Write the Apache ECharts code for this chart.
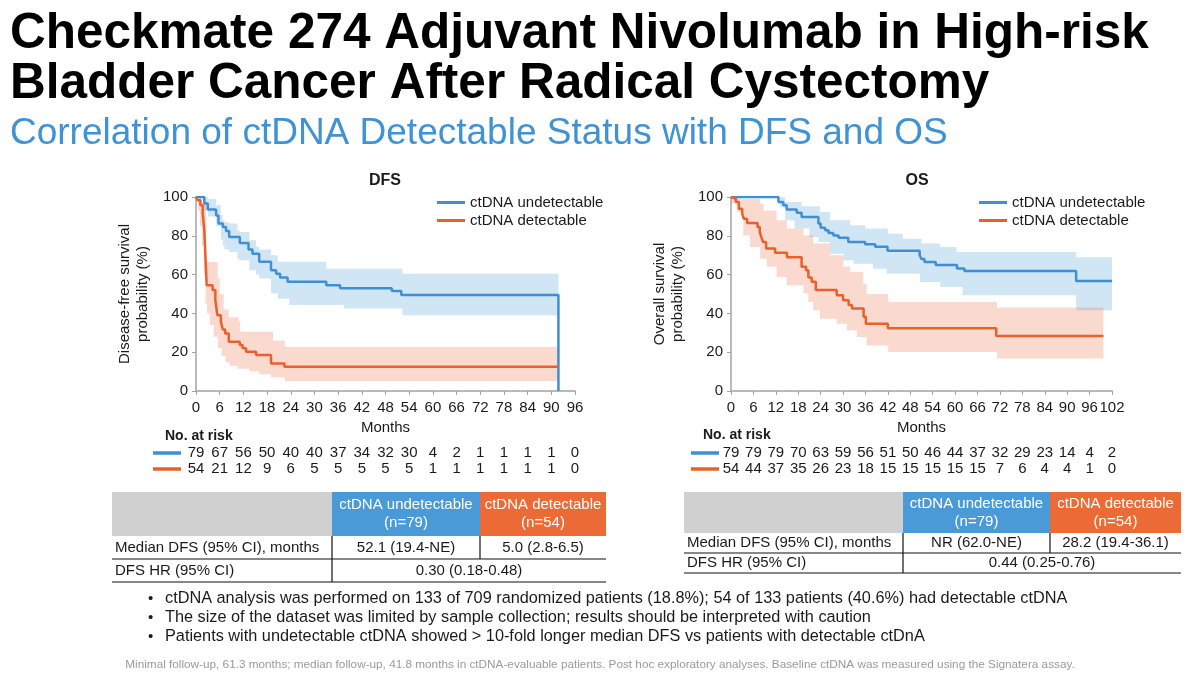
<!DOCTYPE html>
<html>
<head>
<meta charset="utf-8">
<script src="https://cdn.jsdelivr.net/npm/echarts@6/dist/echarts.min.js"></script>
<style>
  html, body { margin: 0; padding: 0; background: #fff; }
  #main { width: 1200px; height: 683px; }
</style>
</head>
<body>
<div id="main"></div>
<script>
// ---- data ----
// KM steps: [month, survival %]
const dfsUndet = [[0,100],[2.1,96.6],[3.0,93.5],[5.1,90.5],[5.7,86.3],[6.8,84.6],[7.6,82.5],[8.4,79.4],[11.1,76.3],[13.3,72.9],[14.3,70.8],[16.0,66.6],[19.0,62.3],[20.3,60.5],[21.3,58.5],[23.2,56.3],[33.0,54.5],[36.5,53.0],[49.6,51.5],[52.0,49.5],[91.8,0]];
const dfsDet = [[0,100],[0.4,98.3],[1.1,95.7],[1.7,91.4],[2.1,83],[2.4,69],[2.7,54.5],[4.2,52],[4.9,46.8],[5.4,39.1],[6.3,35.6],[6.8,31.7],[7.4,29.7],[8.3,25.4],[11.1,23.7],[11.8,22],[12.7,20.2],[15.2,18.5],[19,14.2],[22.4,12.5],[91.8,12.5]];
const osUndet = [[0,100],[12.7,97.4],[14,95.7],[14.9,93.5],[17.6,91.9],[18.9,89.7],[23.4,86.3],[24,84.2],[25.2,82.8],[26.1,81.4],[27.4,80.2],[28.8,79],[31.4,76.8],[35.9,75.6],[38.6,74.3],[41.9,72.3],[50.5,70],[51,68],[51.8,66.5],[54.8,65],[60.5,63.2],[62.5,61.8],[92.4,56.7],[102,56.7]];
const osDet = [[0,100],[0.4,99.1],[1.3,97.4],[2.1,94],[3.0,91.4],[3.4,88.8],[4.3,86.6],[7.1,84.6],[7.7,82],[8.1,79.4],[8.6,76.8],[9.4,73.4],[11.8,71.2],[15,69],[18.9,64],[20.1,62.3],[20.7,58.5],[21.6,56.3],[22.7,52],[28.3,49.4],[30,46.8],[31.5,44.3],[32.4,42.5],[35.5,38.3],[36.1,34.7],[42,32.3],[71,28.4],[99.7,28.4]];

// 95% CI bands: [month, lower, upper]
const dfsUndetCI = [[0,100,100],[2.1,93,100],[3.0,90,99],[5.1,85,95.7],[6.3,78,90.6],[6.8,75,88],[7.2,73,87],[8.4,71.7,86.3],[10.5,68,82.8],[11.0,67.4,82],[13.5,62.3,77.7],[15.2,60,74.3],[16.0,58,73],[19.0,50.3,70],[20.7,47.5,66.6],[23.6,44.3,66.6],[33,44.3,63],[37.5,42.5,63],[52.3,39,60.5],[91.8,39,60.5]];
const dfsDetCI = [[0,100,100],[0.5,93,100],[1.0,85,100],[1.5,75,97],[2.0,60,97],[2.4,45,97],[2.6,45,66.5],[2.8,40,66.5],[3.5,34,66.5],[4.5,28,66.5],[5.5,22,58],[6.0,22,50],[6.5,18,50],[7.0,18,42],[7.5,15,42],[8.3,15,38],[8.5,13,38],[10.5,11.5,38],[10.8,11.5,36],[11.2,11.5,30.5],[13.5,10,30.5],[16,8.6,30.5],[19,7,30.5],[19.5,7,26],[22.5,5.2,22.7],[91.8,5.2,22.7]];
const osUndetCI = [[0,100,100],[13.0,95,100],[14.5,88,97.4],[17.0,83.7,97.4],[18.9,83.7,95.2],[21,79.4,95.2],[23.4,76.8,95.2],[23.8,76.8,92.3],[26.5,70.8,88],[30.1,67.4,88],[31.9,67.4,85.4],[32.8,65.6,85.4],[36,65.6,83.7],[38,63,83.7],[41.7,60.5,83.7],[42,60.5,81],[46,60.5,78.5],[50.6,56.2,78.5],[51,56.2,76],[56,53.6,74.2],[60.4,53.6,71.6],[62,49.3,71.6],[92.4,41.6,69],[102,41.6,69]];
const osDetCI = [[0,100,100],[0.2,96.6,100],[1.5,92.3,100],[2,92.3,99],[3.3,80.2,99],[5.1,74.2,99],[7.8,68.2,96.6],[8.7,68.2,93],[9.6,64,93],[12.2,58.8,88],[14.9,54.5,83.7],[19.4,50.2,80.2],[20.7,45.9,80.2],[22,41.6,76],[23.8,37.3,76],[26.5,37.3,70],[28.3,34.7,70],[30.1,34.7,64],[31,31.3,64],[31.9,31.3,61.3],[33.7,27.8,61.3],[35.4,27.8,55.3],[36.3,23.5,50],[42.1,20.1,45.9],[71.2,16.7,43],[99.7,16.7,43]];

// numbers at risk, one per 6-month tick
const dfsRiskUndet = [79,67,56,50,40,40,37,34,32,30,4,2,1,1,1,1,0];
const dfsRiskDet = [54,21,12,9,6,5,5,5,5,5,1,1,1,1,1,1,0];
const osRiskUndet = [79,79,79,70,63,59,56,51,50,46,44,37,32,29,23,14,4,2];
const osRiskDet = [54,44,37,35,26,23,18,15,15,15,15,15,7,6,4,4,1,0];

const groups = ['ctDNA undetectable', 'ctDNA detectable'];
const tableHead = ['ctDNA undetectable\n(n=79)', 'ctDNA detectable\n(n=54)'];
const dfsRows = [['Median DFS (95% CI), months', '52.1 (19.4-NE)', '5.0 (2.8-6.5)'], ['DFS HR (95% CI)', '0.30 (0.18-0.48)']];
const osRows = [['Median DFS (95% CI), months', 'NR (62.0-NE)', '28.2 (19.4-36.1)'], ['DFS HR (95% CI)', '0.44 (0.25-0.76)']];
const bullets = [
  'ctDNA analysis was performed on 133 of 709 randomized patients (18.8%); 54 of 133 patients (40.6%) had detectable ctDNA',
  'The size of the dataset was limited by sample collection; results should be interpreted with caution',
  'Patients with undetectable ctDNA showed > 10-fold longer median DFS vs patients with detectable ctDnA'
];
const footnote = 'Minimal follow-up, 61.3 months; median follow-up, 41.8 months in ctDNA-evaluable patients. Post hoc exploratory analyses. Baseline ctDNA was measured using the Signatera assay.';

// ---- styling ----
const FONT = '"Liberation Sans", Arial, Helvetica, sans-serif';
const BLUE = '#3f8fd2', ORANGE = '#e8602c';
const BLUE_BAND = 'rgba(91,165,220,0.28)', ORANGE_BAND = 'rgba(236,120,80,0.28)';
const AXIS_GRAY = '#a3a3a3', INK = '#1a1a1a';

function txt(x, y, text, size, opts) {
  opts = opts || {};
  return {
    type: 'text', x: x, y: y, silent: true,
    style: {
      text: text, fill: opts.color || INK, fontSize: size, fontFamily: FONT,
      fontWeight: opts.bold ? 'bold' : 'normal',
      align: opts.align || 'left', textAlign: opts.align || 'left',
      verticalAlign: 'middle', textVerticalAlign: 'middle',
      lineHeight: opts.lineHeight || size * 1.15
    }
  };
}
function rect(x, y, w, h, fill) {
  return { type: 'rect', silent: true, shape: { x: x, y: y, width: w, height: h }, style: { fill: fill } };
}
function line(x1, y1, x2, y2, color, w) {
  return { type: 'line', silent: true, shape: { x1: x1, y1: y1, x2: x2, y2: y2 }, style: { stroke: color, lineWidth: w } };
}

function table(x, cols, headTop, headH, rowH, rows) {
  const x1 = x + cols[0], x2 = x1 + cols[1], x3 = x2 + cols[2];
  const r1 = headTop + headH, r2 = r1 + rowH, r3 = r2 + rowH;
  return [
    rect(x, headTop, cols[0], headH, '#d0d0d0'),
    rect(x1, headTop, cols[1], headH, '#4a9ad8'),
    rect(x2, headTop, cols[2], headH, '#ec6a35'),
    txt(x1 + cols[1] / 2, headTop + headH / 2, tableHead[0], 15, { align: 'center', color: '#fff', lineHeight: 18 }),
    txt(x2 + cols[2] / 2, headTop + headH / 2, tableHead[1], 15, { align: 'center', color: '#fff', lineHeight: 18 }),
    txt(x + 3, r1 + rowH / 2, rows[0][0], 15),
    txt(x1 + cols[1] / 2, r1 + rowH / 2, rows[0][1], 15, { align: 'center' }),
    txt(x2 + cols[2] / 2, r1 + rowH / 2, rows[0][2], 15, { align: 'center' }),
    txt(x + 3, r2 + rowH / 2, rows[1][0], 15),
    txt(x1 + (cols[1] + cols[2]) / 2, r2 + rowH / 2, rows[1][1], 15, { align: 'center' }),
    line(x, r2, x3, r2, '#111', 1.2),
    line(x, r3, x3, r3, '#111', 1.2),
    line(x1, r1, x1, r3, '#111', 1.2),
    line(x2, r1, x2, r2, '#111', 1.2)
  ];
}

// ---- axes ----
function mainX(grid, max) {
  return {
    type: 'value', gridIndex: grid, min: 0, max: max, interval: 6,
    axisLine: { lineStyle: { color: AXIS_GRAY, width: 1.5 } },
    axisTick: { length: 4, lineStyle: { color: AXIS_GRAY } },
    axisLabel: { color: INK, fontSize: 15, fontFamily: FONT, margin: 9 },
    splitLine: { show: false },
    name: 'Months', nameLocation: 'middle', nameGap: 29,
    nameTextStyle: { color: INK, fontSize: 15, fontFamily: FONT }
  };
}
function riskX(grid, max, counts, offset) {
  return {
    type: 'value', gridIndex: grid, min: 0, max: max, interval: 6,
    position: 'bottom', offset: offset,
    axisLine: { show: false }, axisTick: { show: false }, splitLine: { show: false },
    axisLabel: {
      color: INK, fontSize: 15, fontFamily: FONT, margin: 0,
      formatter: function (v) { const c = counts[Math.round(v / 6)]; return c === undefined ? '' : String(c); }
    }
  };
}
function mainY(grid, name) {
  return {
    type: 'value', gridIndex: grid, min: 0, max: 100, interval: 20,
    axisLine: { show: true, lineStyle: { color: AXIS_GRAY, width: 1.5 } },
    axisTick: { show: true, length: 4, lineStyle: { color: AXIS_GRAY } },
    axisLabel: { color: INK, fontSize: 15, fontFamily: FONT, margin: 8 },
    splitLine: { show: false },
    name: name, nameLocation: 'middle', nameGap: 44, nameRotate: 90,
    nameTextStyle: { color: INK, fontSize: 15, fontFamily: FONT, lineHeight: 18 }
  };
}

// ---- series ----
// CI band as a stepped polygon, placed through the axes with api.coord
function band(ci, idx, color) {
  return {
    type: 'custom', xAxisIndex: idx, yAxisIndex: idx, z: 1, silent: true, clip: true,
    data: [0],
    renderItem: function (params, api) {
      const pts = [];
      const n = ci.length;
      for (let i = 0; i < n; i++) {
        pts.push(api.coord([ci[i][0], ci[i][2]]));
        if (i < n - 1) pts.push(api.coord([ci[i + 1][0], ci[i][2]]));
      }
      for (let i = n - 1; i >= 0; i--) {
        if (i < n - 1) pts.push(api.coord([ci[i + 1][0], ci[i][1]]));
        pts.push(api.coord([ci[i][0], ci[i][1]]));
      }
      return { type: 'polygon', shape: { points: pts }, style: { fill: color } };
    }
  };
}
function km(data, idx, name, color) {
  return {
    type: 'line', name: name, xAxisIndex: idx, yAxisIndex: idx, step: 'end', symbol: 'none',
    z: 3, data: data, lineStyle: { color: color, width: 2.5 }, itemStyle: { color: color }
  };
}

function legend(left) {
  return {
    data: groups, left: left, top: 194, orient: 'vertical', padding: 0,
    icon: 'rect', itemWidth: 28, itemHeight: 3, itemGap: 1, selectedMode: false,
    textStyle: { fontSize: 15, color: INK, fontFamily: FONT, lineHeight: 17 }
  };
}

const graphics = [
  txt(10, 34, 'Checkmate 274 Adjuvant Nivolumab in High-risk', 49.5, { bold: true, color: '#000' }),
  txt(10, 84, 'Bladder Cancer After Radical Cystectomy', 49.5, { bold: true, color: '#000' }),
  txt(10, 134, 'Correlation of ctDNA Detectable Status with DFS and OS', 37, { color: '#3f93d5' }),
  txt(385, 181, 'DFS', 16, { bold: true, align: 'center' }),
  txt(917, 181, 'OS', 16, { bold: true, align: 'center' }),
  txt(165, 436, 'No. at risk', 14, { bold: true }),
  txt(703, 435, 'No. at risk', 14, { bold: true }),
  line(153, 453, 181, 453, BLUE, 3.5),
  line(153, 469, 181, 469, ORANGE, 3.5),
  line(691, 453, 719, 453, BLUE, 3.5),
  line(691, 469, 719, 469, ORANGE, 3.5)
].concat(
  table(112, [220, 148, 126], 492, 44, 23, dfsRows),
  table(684, [219, 147, 131], 492, 41, 20, osRows),
  bullets.map((b, i) => txt(148, 599 + i * 19, '\u2022', 15)),
  bullets.map((b, i) => txt(165, 599 + i * 19, b, 16.3)),
  [txt(600, 665, footnote, 11.75, { align: 'center', color: '#9a9a9a' })]
);

const chart = echarts.init(document.getElementById('main'), null, { renderer: 'canvas' });
chart.setOption({
  animation: false,
  backgroundColor: '#fff',
  textStyle: { fontFamily: FONT },
  grid: [
    { left: 196, top: 197, width: 379, height: 194 },
    { left: 731, top: 197, width: 381, height: 194 }
  ],
  xAxis: [
    mainX(0, 96), mainX(1, 102),
    riskX(0, 96, dfsRiskUndet, 54), riskX(0, 96, dfsRiskDet, 70),
    riskX(1, 102, osRiskUndet, 54), riskX(1, 102, osRiskDet, 70)
  ],
  yAxis: [
    mainY(0, 'Disease-free survival\nprobability (%)'),
    mainY(1, 'Overall survival\nprobability (%)')
  ],
  legend: [legend(437), legend(979)],
  graphic: graphics,
  series: [
    band(dfsUndetCI, 0, BLUE_BAND),
    band(dfsDetCI, 0, ORANGE_BAND),
    band(osUndetCI, 1, BLUE_BAND),
    band(osDetCI, 1, ORANGE_BAND),
    km(dfsUndet, 0, groups[0], BLUE),
    km(dfsDet, 0, groups[1], ORANGE),
    km(osUndet, 1, groups[0], BLUE),
    km(osDet, 1, groups[1], ORANGE)
  ]
});
</script>
</body>
</html>
